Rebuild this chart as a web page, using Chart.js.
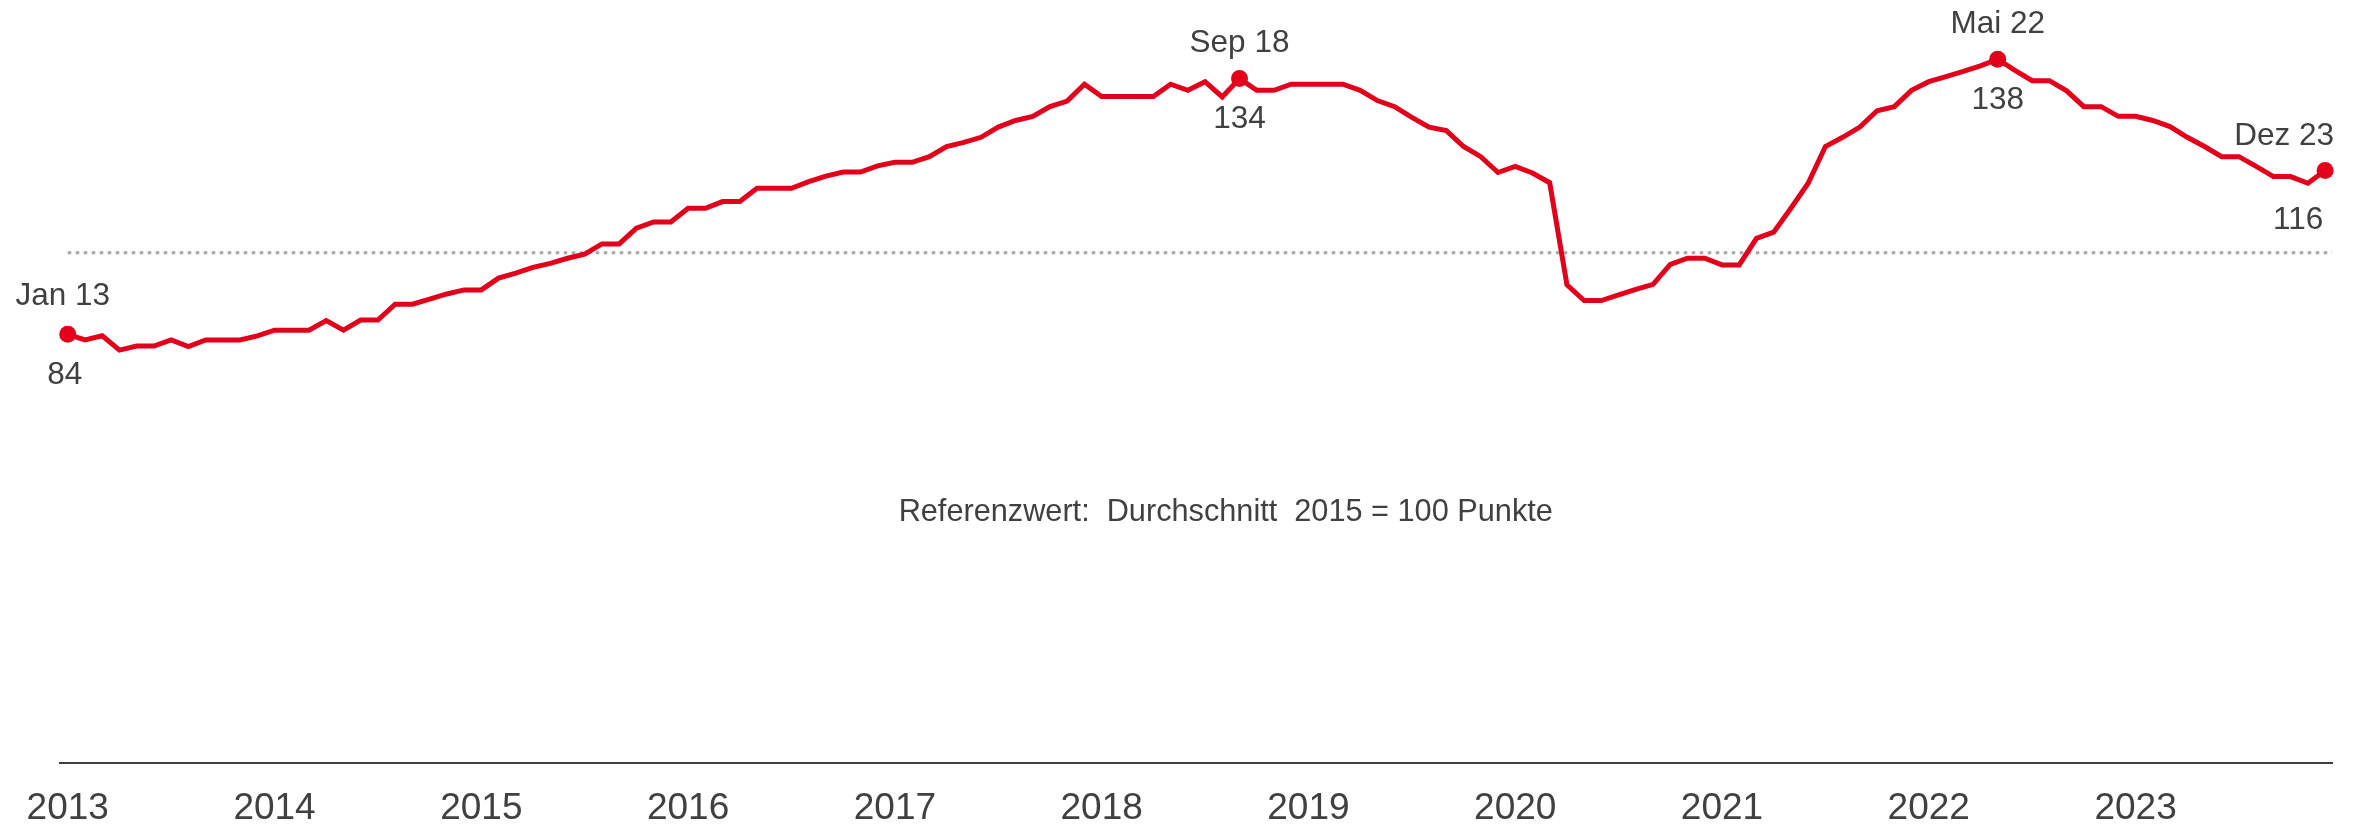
<!DOCTYPE html>
<html>
<head>
<meta charset="utf-8">
<script src="https://cdn.jsdelivr.net/npm/chart.js@4/dist/chart.umd.min.js"></script>
<style>
  html, body { margin: 0; padding: 0; background: #fff; }
  canvas { display: block; }
</style>
</head>
<body>
<canvas id="indexChart" width="2363" height="827"></canvas>
<script>
// monthly index values, Jan 2013 .. Dez 2023 (2015 = 100)
const years = ['2013', '2014', '2015', '2016', '2017', '2018', '2019', '2020', '2021', '2022', '2023'];
const values = [
  84.0, 82.9, 83.7, 80.9, 81.7, 81.7, 82.9, 81.6, 82.9, 82.9, 82.9, 83.7,           // 2013
  84.8, 84.8, 84.8, 86.7, 84.8, 86.8, 86.8, 89.9, 89.9, 90.9, 91.9, 92.7,           // 2014
  92.7, 95.0, 96.0, 97.1, 97.9, 98.9, 99.7, 101.7, 101.7, 104.8, 106.0, 106.0,      // 2015
  108.7, 108.7, 110.0, 110.0, 112.6, 112.6, 112.6, 113.9, 115.0, 115.8, 115.8, 117.0, // 2016
  117.7, 117.7, 118.8, 120.8, 121.6, 122.6, 124.6, 125.9, 126.7, 128.6, 129.7, 133.0, // 2017
  130.6, 130.6, 130.6, 130.6, 133.0, 131.8, 133.5, 130.5, 134.1, 131.8, 131.8, 133.0, // 2018
  133.0, 133.0, 133.0, 131.8, 129.8, 128.6, 126.5, 124.6, 123.9, 120.8, 118.8, 115.7, // 2019
  116.9, 115.6, 113.7, 93.7, 90.6, 90.6, 91.7, 92.8, 93.8, 97.7, 98.9, 98.9,        // 2020
  97.6, 97.6, 102.8, 104.0, 108.7, 113.6, 120.8, 122.6, 124.6, 127.8, 128.6, 131.8,  // 2021
  133.5, 134.5, 135.5, 136.6, 137.9, 135.7, 133.7, 133.7, 131.7, 128.6, 128.6, 126.7, // 2022
  126.7, 125.9, 124.7, 122.6, 120.8, 118.8, 118.8, 116.9, 114.9, 114.9, 113.6, 116.1  // 2023
];
const highlightIdx = [0, 68, 112, 131];
const highlightNames = ['Jan 13', 'Sep 18', 'Mai 22', 'Dez 23'];
const highlightValues = ['84', '134', '138', '116'];
const referenceValue = 100;
const referenceText = 'Referenzwert:  Durchschnitt  2015 = 100 Punkte';

const red = '#e2001a';
const textGrey = '#404040';
const fontFamily = '"Liberation Sans", Arial, Helvetica, sans-serif';

const points = values.map((v, i) => ({ x: i, y: v }));

// dotted reference line at 100 + explanatory text
const referencePlugin = {
  id: 'referenceLine',
  beforeDatasetsDraw(chart) {
    const { ctx, chartArea, scales: { x, y } } = chart;
    const py = y.getPixelForValue(referenceValue);
    ctx.save();
    ctx.strokeStyle = '#a6a6a6';
    ctx.lineWidth = 3;
    ctx.setLineDash([3.5, 4.5]);
    ctx.beginPath();
    ctx.moveTo(x.getPixelForValue(0), py);
    ctx.lineTo(chartArea.right, py);
    ctx.stroke();
    ctx.restore();

    ctx.save();
    ctx.fillStyle = textGrey;
    ctx.font = '30.7px ' + fontFamily;
    ctx.textAlign = 'center';
    ctx.textBaseline = 'middle';
    ctx.fillText(referenceText, x.getPixelForValue(67.2), y.getPixelForValue(49.1));
    ctx.restore();
  }
};

// month + value labels around the highlighted points
const labelPlugin = {
  id: 'pointLabels',
  afterDatasetsDraw(chart) {
    const { ctx, scales: { x, y } } = chart;
    ctx.save();
    ctx.fillStyle = textGrey;
    ctx.font = '31.5px ' + fontFamily;
    ctx.textBaseline = 'middle';
    highlightIdx.forEach((idx, k) => {
      const px = x.getPixelForValue(idx);
      const py = y.getPixelForValue(values[idx]);
      const last = k === highlightIdx.length - 1;
      if (last) {
        ctx.textAlign = 'right';
        ctx.fillText(highlightNames[k], px + 9, py - 34);
        ctx.textAlign = 'center';
        ctx.fillText(highlightValues[k], px - 27, py + 50);
      } else {
        ctx.textAlign = 'center';
        ctx.fillText(highlightNames[k], px - (k === 0 ? 5 : 0), py - (k === 0 ? 38 : 35));
        ctx.fillText(highlightValues[k], px - (k === 0 ? 3 : 0), py + 41);
      }
    });
    ctx.restore();
  }
};

const ctx = document.getElementById('indexChart').getContext('2d');
const indexChart = new Chart(ctx, {
  type: 'line',
  data: {
    datasets: [{
      label: 'Index',
      data: points,
      borderColor: red,
      backgroundColor: red,
      borderWidth: 5,
      tension: 0,
      borderJoinStyle: 'miter',
      pointRadius: (c) => highlightIdx.includes(c.dataIndex) ? 8.5 : 0,
      pointHoverRadius: 0,
      pointBackgroundColor: red,
      pointBorderWidth: 0,
      clip: false
    }]
  },
  options: {
    responsive: false,
    animation: false,
    layout: { autoPadding: false, padding: { left: 60, right: 31, top: 0, bottom: 0 } },
    plugins: {
      legend: { display: false },
      tooltip: { enabled: false }
    },
    scales: {
      x: {
        type: 'linear',
        min: -0.45,
        max: 131.4,
        grid: { display: false, drawTicks: false },
        border: { display: true, color: '#404040', width: 2 },
        afterBuildTicks: (scale) => {
          scale.ticks = years.map((yr, k) => ({ value: k * 12 }));
        },
        afterFit: (scale) => { scale.height = 64; },
        ticks: {
          autoSkip: false,
          maxRotation: 0,
          padding: 24,
          color: textGrey,
          font: { family: fontFamily, size: 37 },
          callback: (value) => years[Math.round(value / 12)]
        }
      },
      y: {
        display: false,
        min: 0,
        max: 149.5
      }
    }
  },
  plugins: [referencePlugin, labelPlugin]
});
</script>
</body>
</html>
